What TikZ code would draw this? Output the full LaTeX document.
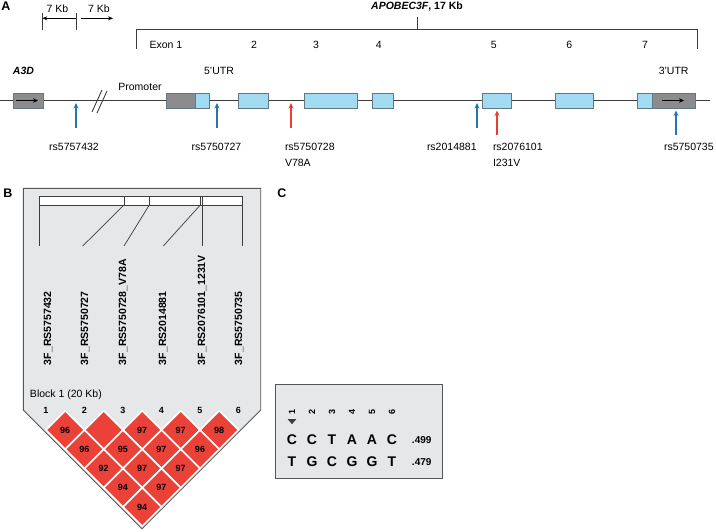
\documentclass[tikz,border=0pt]{standalone}
\usepackage{fontspec}
\setmainfont{Liberation Sans}
\usetikzlibrary{arrows.meta,shapes.geometric}

\definecolor{exonblue}{RGB}{160,219,242}
\definecolor{boxedge}{RGB}{100,120,130}
\definecolor{utrgray}{RGB}{140,140,142}
\definecolor{snpblue}{RGB}{38,118,178}
\definecolor{snpred}{RGB}{232,62,52}
\definecolor{panelgray}{RGB}{230,231,232}
\definecolor{paneledge}{RGB}{85,85,85}
\definecolor{ldred}{RGB}{234,66,56}
\definecolor{linegray}{RGB}{60,60,60}

\begin{document}
\begin{tikzpicture}
[
    x=1pt, y=-1pt,
    every node/.style={inner sep=0pt, outer sep=0pt},
    txt/.style={font=\fontsize{10.5}{12}\selectfont},
    boldtxt/.style={font=\bfseries\fontsize{10.5}{12}\selectfont},
    numtxt/.style={font=\bfseries\fontsize{9}{10}\selectfont},
    freqtxt/.style={font=\bfseries\fontsize{10}{11}\selectfont},
    basetxt/.style={font=\bfseries\fontsize{14}{16}\selectfont},
    panellabel/.style={font=\bfseries\fontsize{12.5}{14}\selectfont},
    genebox/.style={draw=boxedge, line width=0.7pt, minimum height=15pt},
    exon/.style={genebox, fill=exonblue},
    utr/.style={genebox, fill=utrgray},
    geneline/.style={draw=linegray, line width=0.9pt},
    dirarrow/.style={line width=1pt, -{Stealth[length=5pt,width=4.5pt]}},
    scalearrow/.style={line width=0.8pt, -{Stealth[length=5pt,width=4pt]}},
    bluesnp/.style={draw=snpblue, line width=1.3pt, -{Stealth[length=5.5pt,width=5pt]}},
    redsnp/.style={draw=snpred, line width=1.3pt, -{Stealth[length=5.5pt,width=5pt]}},
    thin/.style={draw=linegray, line width=0.7pt},
    ldcell/.style={diamond, fill=ldred, draw=white, line width=1.6pt,
        minimum width=38.5pt, minimum height=38.5pt,
        font=\bfseries\fontsize{9}{10}\selectfont},
]
\useasboundingbox (0,0) rectangle (716,531);

% panel A
\node[panellabel] (pA) at (6,6) {A};

\coordinate (sb1t) at (42.3,13);
\coordinate (sb1b) at (42.3,30);
\coordinate (sb2t) at (76,13);
\coordinate (sb2b) at (76,30);
\coordinate (sbl) at (76,18.3);
\coordinate (sbr1) at (81,18.3);
\coordinate (sbr2) at (113,18.3);
\draw[thin] (sb1t) -- (sb1b);
\draw[thin] (sb2t) -- (sb2b);
\draw[scalearrow] (sbl) -- (sb1t |- sbl);
\draw[scalearrow] (sbr1) -- (sbr2);
\node[txt] (kb1) at (57.5,8.3) {7 Kb};
\node[txt] (kb2) at (99,8.3) {7 Kb};

\coordinate (brl) at (136.7,49);
\coordinate (brlt) at (136.7,29.3);
\coordinate (brrt) at (697,29.3);
\coordinate (brr) at (697,49);
\coordinate (brmt) at (417,17);
\draw[thin] (brl) -- (brlt) -- (brrt) -- (brr);
\draw[thin] (brmt) -- (brmt |- brlt);
\node[boldtxt] (gene) at (417,6.7) {\textit{APOBEC3F}, 17 Kb};

\node[txt] (x1) at (166,45) {Exon 1};
\node[txt] (x2) at (254,45) {2};
\node[txt] (x3) at (316,45) {3};
\node[txt] (x4) at (378.7,45) {4};
\node[txt] (x5) at (493.7,45) {5};
\node[txt] (x6) at (569.3,45) {6};
\node[txt] (x7) at (645,45) {7};

\node[boldtxt] (a3dlbl) at (23.5,71) {\itshape A3D};
\node[txt] (utr5) at (219,70.7) {5'UTR};
\node[txt] (utr3) at (673.7,70.7) {3'UTR};
\node[txt] (prom) at (140,87) {Promoter};

\coordinate (linel) at (0,100.5);
\coordinate (liner) at (710,100.5);
\draw[geneline] (linel) -- (liner);
\coordinate (sl1a) at (92,112);
\coordinate (sl1b) at (102,90);
\coordinate (sl2a) at (97,113);
\coordinate (sl2b) at (107,91);
\draw[geneline] (sl1a) -- (sl1b);
\draw[geneline] (sl2a) -- (sl2b);

\node[utr, minimum width=30pt] (a3d) at (28,100.5) {};
\draw[dirarrow] ([xshift=3pt]a3d.west) -- ([xshift=-5pt]a3d.east);
\node[utr, minimum width=29pt] (u5) at (180.5,100.5) {};
\node[exon, minimum width=14.5pt, anchor=west] (e1) at (u5.east) {};
\node[exon, minimum width=30pt] (e2) at (253,100.5) {};
\node[exon, minimum width=53pt] (e3) at (330.5,100.5) {};
\node[exon, minimum width=21pt] (e4) at (382.5,100.5) {};
\node[exon, minimum width=29pt] (e5) at (496.5,100.5) {};
\node[exon, minimum width=38pt] (e6) at (574,100.5) {};
\node[exon, minimum width=15pt] (e7) at (644.5,100.5) {};
\node[utr, minimum width=43pt, anchor=west] (u3) at (e7.east) {};
\draw[dirarrow] ([xshift=10pt]u3.west) -- ([xshift=-11pt]u3.east);

\coordinate (s1a) at (76,127.7);
\coordinate (s1b) at (76,103);
\coordinate (s2a) at (217,127.7);
\coordinate (s2b) at (217,103);
\coordinate (s3a) at (291,127.7);
\coordinate (s3b) at (291,103);
\coordinate (s4a) at (477,127.7);
\coordinate (s4b) at (477,103);
\coordinate (s5a) at (497,135);
\coordinate (s5b) at (497,110.5);
\coordinate (s6a) at (676,135);
\coordinate (s6b) at (676,110.5);
\draw[bluesnp] (s1a) -- (s1b);
\draw[bluesnp] (s2a) -- (s2b);
\draw[redsnp] (s3a) -- (s3b);
\draw[bluesnp] (s4a) -- (s4b);
\draw[redsnp] (s5a) -- (s5b);
\draw[bluesnp] (s6a) -- (s6b);

\node[txt] (rs1) at (74,146.7) {rs5757432};
\node[txt] (rs2) at (216.5,146.7) {rs5750727};
\node[txt, anchor=west] (rs3) at (285,146.7) {rs5750728};
\node[txt, anchor=west] (rs3b) at (285,163) {V78A};
\node[txt, anchor=west] (rs4) at (427,146.7) {rs2014881};
\node[txt, anchor=west] (rs5) at (493,146.7) {rs2076101};
\node[txt, anchor=west] (rs5b) at (493,163) {I231V};
\node[txt, anchor=west] (rs6) at (664,146.7) {rs5750735};

% panel B
\node[panellabel] (pB) at (8,193) {B};
\draw[fill=panelgray, draw=paneledge, line width=0.9pt]
    (23.3,188.3) -- (260.7,188.3) -- (260.7,410) -- (142,528.7) -- (23.3,410) -- cycle;

\draw[thin, fill=white] (39.3,196) rectangle (242.7,205);
\draw[thin] (124,196) -- (124,205);
\draw[thin] (149.3,196) -- (149.3,205);
\draw[thin] (200.3,196) -- (200.3,205);
\coordinate (k1) at (39.3,205);
\coordinate (k2) at (124,205);
\coordinate (k3) at (149.3,205);
\coordinate (k4) at (200.3,205);
\coordinate (k5) at (202.7,196);
\coordinate (k6) at (242.7,205);
\coordinate (t1) at (39.3,246);
\coordinate (t2) at (82.7,246);
\coordinate (t3) at (124,246);
\coordinate (t4) at (163.3,246);
\coordinate (t5) at (202.7,246);
\coordinate (t6) at (242.7,246);
\draw[thin] (k1) -- (t1);
\draw[thin] (k2) -- (t2);
\draw[thin] (k3) -- (t3);
\draw[thin] (k4) -- (t4);
\draw[thin] (k5) -- (t5);
\draw[thin] (k6) -- (t6);

\node[boldtxt, rotate=90, anchor=west] (m1) at (48,365) {3F\_RS5757432};
\node[boldtxt, rotate=90, anchor=west] (m2) at (85,365) {3F\_RS5750727};
\node[boldtxt, rotate=90, anchor=west] (m3) at (123,365) {3F\_RS5750728\_V78A};
\node[boldtxt, rotate=90, anchor=west] (m4) at (163,365) {3F\_RS2014881};
\node[boldtxt, rotate=90, anchor=west] (m5) at (202,365) {3F\_RS2076101\_1231V};
\node[boldtxt, rotate=90, anchor=west] (m6) at (239,365) {3F\_RS5750735};

\node[txt, anchor=west] (block) at (30,395) {Block 1 (20 Kb)};
\node[numtxt] (n1) at (46,410.5) {1};
\node[numtxt] (n2) at (84.5,410.5) {2};
\node[numtxt] (n3) at (123,410.5) {3};
\node[numtxt] (n4) at (161.5,410.5) {4};
\node[numtxt] (n5) at (200,410.5) {5};
\node[numtxt] (n6) at (238.5,410.5) {6};

\node[ldcell] (d12) at (65.25,430) {96};
\node[ldcell] (d23) at (103.75,430) {};
\node[ldcell] (d34) at (142.25,430) {97};
\node[ldcell] (d45) at (180.75,430) {97};
\node[ldcell] (d56) at (219.25,430) {98};
\node[ldcell] (d13) at (84.5,449.25) {96};
\node[ldcell] (d24) at (123,449.25) {95};
\node[ldcell] (d35) at (161.5,449.25) {97};
\node[ldcell] (d46) at (200,449.25) {96};
\node[ldcell] (d14) at (103.75,468.5) {92};
\node[ldcell] (d25) at (142.25,468.5) {97};
\node[ldcell] (d36) at (180.75,468.5) {97};
\node[ldcell] (d15) at (123,487.75) {94};
\node[ldcell] (d26) at (161.5,487.75) {97};
\node[ldcell] (d16) at (142.25,507) {94};

% panel C
\node[panellabel] (pC) at (282,193) {C};
\draw[fill=panelgray, draw=paneledge, line width=0.9pt] (275,384) rectangle (442.3,478);
\node[numtxt, rotate=90] (c1) at (292,411.5) {1};
\node[numtxt, rotate=90] (c2) at (312,411.5) {2};
\node[numtxt, rotate=90] (c3) at (332,411.5) {3};
\node[numtxt, rotate=90] (c4) at (352,411.5) {4};
\node[numtxt, rotate=90] (c5) at (372,411.5) {5};
\node[numtxt, rotate=90] (c6) at (392,411.5) {6};
\fill[linegray] (287.6,419) -- (296.4,419) -- (292,424.2) -- cycle;

\node[basetxt] (h11) at (292,439.5) {C};
\node[basetxt] (h12) at (312,439.5) {C};
\node[basetxt] (h13) at (332,439.5) {T};
\node[basetxt] (h14) at (352,439.5) {A};
\node[basetxt] (h15) at (372,439.5) {A};
\node[basetxt] (h16) at (392,439.5) {C};
\node[freqtxt] (f1) at (421.7,440) {.499};
\node[basetxt] (h21) at (292,461.5) {T};
\node[basetxt] (h22) at (312,461.5) {G};
\node[basetxt] (h23) at (332,461.5) {C};
\node[basetxt] (h24) at (352,461.5) {G};
\node[basetxt] (h25) at (372,461.5) {G};
\node[basetxt] (h26) at (392,461.5) {T};
\node[freqtxt] (f2) at (421.7,462) {.479};
\end{tikzpicture}
\end{document}
